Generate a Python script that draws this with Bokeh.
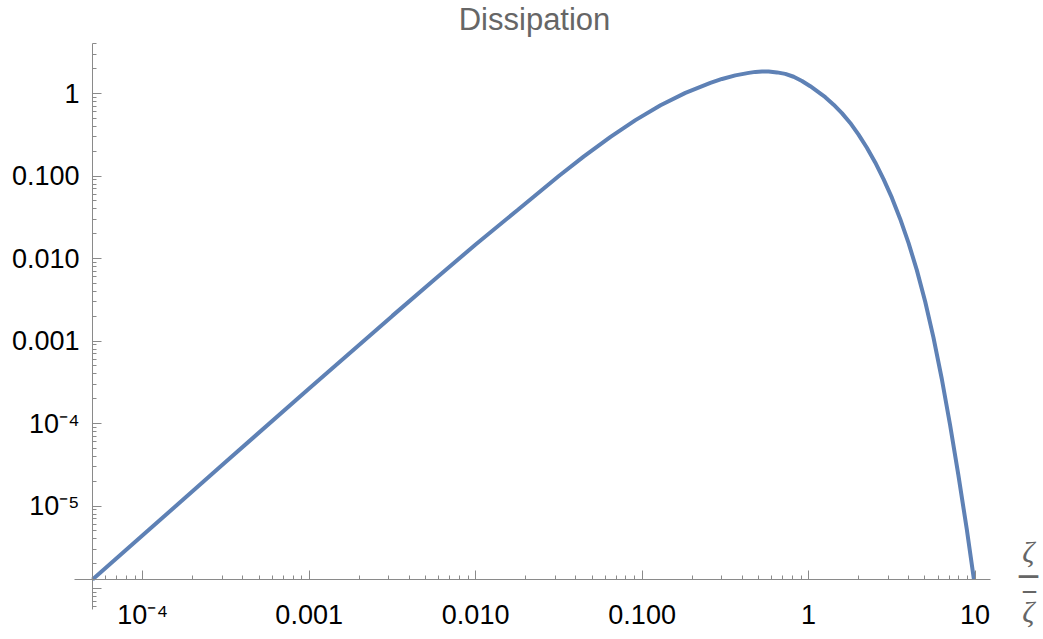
from bokeh.plotting import figure
from bokeh.models import Range1d, FixedTicker, Label
from bokeh.embed import file_html
from bokeh.resources import INLINE

# ---- data (log-log) ----
zeta = [5.00e-5, 1.00e-4, 3.16e-4, 1.00e-3, 3.16e-3, 5.62e-3, 0.0100, 0.0178, 0.0316,
        0.0447, 0.0646, 0.0912, 0.129, 0.182, 0.257, 0.302, 0.363, 0.437, 0.479, 0.525,
        0.575, 0.646, 0.724, 0.813, 0.912, 1.023, 1.259, 1.413, 1.585, 1.778, 1.995,
        2.239, 2.512, 2.818, 3.162, 3.548, 3.981, 4.467, 5.012, 5.623, 6.310, 7.079,
        7.943, 8.913, 9.84]
dissipation = [1.29e-6, 4.43e-6, 3.44e-5, 2.67e-4, 2.02e-3, 5.51e-3, 0.0148, 0.0385,
               0.100, 0.173, 0.298, 0.476, 0.721, 1.019, 1.343, 1.500, 1.660, 1.778,
               1.828, 1.854, 1.849, 1.803, 1.730, 1.596, 1.419, 1.225, 0.902, 0.733,
               0.579, 0.440, 0.318, 0.220, 0.146, 0.0918, 0.0547, 0.0302, 0.0155,
               7.24e-3, 3.02e-3, 1.10e-3, 3.47e-4, 9.55e-5, 2.34e-5, 5.25e-6, 1.29e-6]

x_ticks = [1e-4, 1e-3, 1e-2, 1e-1, 1.0, 10.0]
x_tick_labels = ["10\u207b\u2074", "0.001", "0.010", "0.100", "1", "10"]
y_ticks = [1e-6, 1e-5, 1e-4, 1e-3, 1e-2, 1e-1, 1.0]
y_tick_labels = ["", "10\u207b\u2075", "10\u207b\u2074", "0.001", "0.010", "0.100", "1"]

title_text = "Dissipation"
x_label_num = "\u03b6"
x_label_den = "\u03b6"

# where the two axes cross (plot-range corner) and how far the axes run
x_origin, y_origin = 5.0e-5, 1.29e-6
x_axis_start, x_axis_end = 3.87e-5, 12.36
y_axis_bottom, y_axis_top = 5.65e-7, 4.04

# the frame covers the whole canvas; the axes are drawn at fixed locations
x_frame = (1.40e-5, 25.75)
y_frame = (2.42e-7, 13.4)

x_minor = [m * 10.0 ** e for e in range(-5, 2) for m in range(2, 10)]
x_minor = [t for t in x_minor if x_origin < t <= x_axis_end]
y_minor = [m * 10.0 ** e for e in range(-7, 1) for m in range(2, 10)]
y_minor = [t for t in y_minor if y_axis_bottom <= t <= y_axis_top]

AXIS_GRAY = "#8a8a8a"
LABEL_GRAY = "#666666"
FONT = "Liberation Sans"

p = figure(width=1043, height=639, x_axis_type="log", y_axis_type="log",
           x_range=Range1d(*x_frame), y_range=Range1d(*y_frame),
           output_backend="svg", toolbar_location=None,
           min_border_left=0, min_border_right=0, min_border_top=0,
           min_border_bottom=0)

p.title.visible = False
p.xgrid.visible = False
p.ygrid.visible = False
p.outline_line_color = None
p.background_fill_color = "white"
p.border_fill_color = "white"

p.xaxis.ticker = FixedTicker(ticks=x_ticks, minor_ticks=x_minor)
p.yaxis.ticker = FixedTicker(ticks=y_ticks, minor_ticks=y_minor)
p.xaxis.major_label_overrides = dict(zip(x_ticks, x_tick_labels))
p.yaxis.major_label_overrides = dict(zip(y_ticks, y_tick_labels))

p.xaxis.fixed_location = y_origin
p.yaxis.fixed_location = x_origin
p.xaxis.bounds = (x_axis_start, x_axis_end)
p.yaxis.bounds = (y_axis_bottom, y_axis_top)

for ax in (p.xaxis, p.yaxis):
    ax.axis_line_color = AXIS_GRAY
    ax.axis_line_width = 1
    ax.major_tick_line_color = AXIS_GRAY
    ax.minor_tick_line_color = AXIS_GRAY
    ax.major_tick_in = 9
    ax.major_tick_out = 0
    ax.minor_tick_in = 4
    ax.minor_tick_out = 0
    ax.major_label_text_font = FONT
    ax.major_label_text_font_size = "27px"
    ax.major_label_text_color = "black"

p.xaxis.major_label_standoff = 20
p.yaxis.major_label_standoff = 13

p.line(zeta, dissipation, line_color="#5E81B5", line_width=4)

# title, placed above the top end of the y axis
title = Label(x=x_origin, y=y_axis_top, x_offset=442, y_offset=24, text=title_text,
              text_font=FONT, text_font_size="31px", text_color=LABEL_GRAY,
              text_align="center", text_baseline="alphabetic")
p.add_layout(title)

# x-axis label as a fraction  zeta / zeta-bar  at the right end of the axis
common = dict(x=x_axis_end, y=y_origin, text_color=LABEL_GRAY,
              text_align="center", text_baseline="middle")
num = Label(x_offset=38, y_offset=28, text=x_label_num, text_font="Liberation Serif",
            text_font_style="italic", text_font_size="30px", **common)
bar = Label(x_offset=38, y_offset=4, text="\u2014", text_font="DejaVu Sans",
            text_font_size="22px", text_font_style="bold", **common)
den_bar = Label(x_offset=39, y_offset=-11, text="\u2014", text_font="DejaVu Sans",
                text_font_size="15px", text_font_style="bold", **common)
den = Label(x_offset=38, y_offset=-32, text=x_label_den, text_font="Liberation Serif",
            text_font_style="italic", text_font_size="30px", **common)
for lab in (num, bar, den_bar, den):
    p.add_layout(lab)

open("out.html", "w").write(file_html(p, INLINE))
